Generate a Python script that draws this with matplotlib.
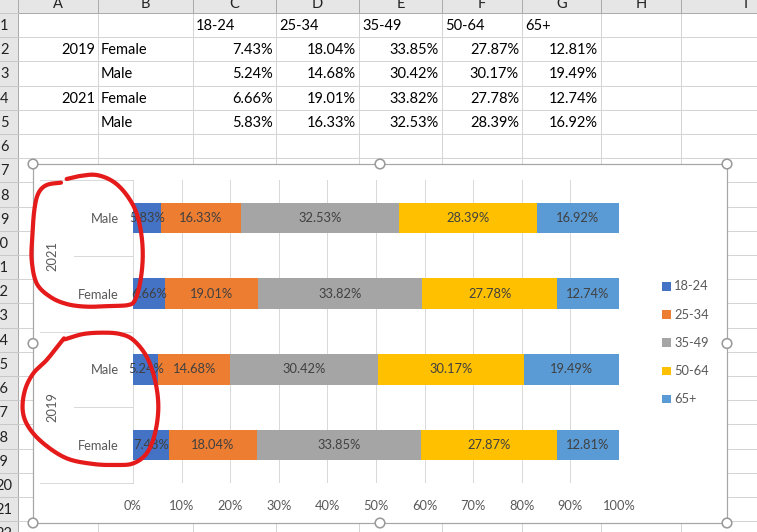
import numpy as np
import matplotlib
matplotlib.use('Agg')
import matplotlib.pyplot as plt
from matplotlib.patches import Rectangle, Circle
import matplotlib.transforms as mtransforms

plt.rcParams['font.family'] = ['Lato', 'DejaVu Sans']

# donnees (ordre du tableur : 2019 F, 2019 M, 2021 F, 2021 M)
years = ['2019', '', '2021', '']
genders = ['Female', 'Male', 'Female', 'Male']
groups = ['18-24', '25-34', '35-49', '50-64', '65+']
a18_24 = [7.43, 5.24, 6.66, 5.83]
a25_34 = [18.04, 14.68, 19.01, 16.33]
a35_49 = [33.85, 30.42, 33.82, 32.53]
a50_64 = [27.87, 30.17, 27.78, 28.39]
a65 = [12.81, 19.49, 12.74, 16.92]
series = [a18_24, a25_34, a35_49, a50_64, a65]
colors = ['#4472C4', '#ED7D31', '#A5A5A5', '#FFC000', '#5B9BD5']
xticks = [0, 10, 20, 30, 40, 50, 60, 70, 80, 90, 100]

W, H = 757, 532
PX = 0.72  # 1 pixel en points (dpi 100)

fig = plt.figure(figsize=(W / 100, H / 100), dpi=100)

# ---- feuille excel en fond
bg = fig.add_axes([0, 0, 1, 1])
bg.set_xlim(0, W)
bg.set_ylim(H, 0)
bg.axis('off')

col_edges = [18, 98, 193, 276, 359, 442, 522, 601, 681, 810]
col_names = ['A', 'B', 'C', 'D', 'E', 'F', 'G', 'H', 'I']
row_top = 13
row_h = 24.2
grid_c = '#D4D4D4'

for x in col_edges[1:]:
    bg.plot([x, x], [row_top, H], color=grid_c, lw=PX)
for i in range(1, 24):
    y = row_top + row_h * i
    bg.plot([18, W], [y, y], color=grid_c, lw=PX)

bg.add_patch(Rectangle((0, 0), W, row_top, fc='#E6E6E6', ec='none'))
bg.add_patch(Rectangle((0, 0), 18, H, fc='#E6E6E6', ec='none'))
for x in col_edges[1:]:
    bg.plot([x, x], [0, row_top], color='#ABABAB', lw=PX)
bg.plot([0, W], [row_top, row_top], color='#ABABAB', lw=PX)
bg.plot([18, 18], [0, H], color='#ABABAB', lw=PX)
for i in range(1, 23):
    y = row_top + row_h * (i - 1)
    bg.plot([0, 18], [y, y], color='#C8C8C8', lw=PX)
    xr = 12 if i >= 20 else 8.5
    bg.text(xr, y + row_h / 2 + 1, str(i), ha='right', va='center', fontsize=10.5, color='#222222')
for k, name in enumerate(col_names):
    cx = (col_edges[k] + col_edges[k + 1]) / 2
    bg.text(cx, 4, name, ha='center', va='center', fontsize=10.5, color='#222222')

def cell_y(r):
    return row_top + row_h * (r - 1) + row_h / 2 + 1

for k, g in enumerate(groups):
    bg.text(col_edges[2 + k] + 3, cell_y(1), g, ha='left', va='center', fontsize=10.5, color='black')
for r in range(4):
    if years[r]:
        bg.text(col_edges[1] - 3, cell_y(r + 2), years[r], ha='right', va='center', fontsize=10.5, color='black')
    bg.text(col_edges[1] + 3, cell_y(r + 2), genders[r], ha='left', va='center', fontsize=10.5, color='black')
    for k, s in enumerate(series):
        bg.text(col_edges[3 + k] - 3, cell_y(r + 2), f'{s[r]:.2f}%', ha='right', va='center',
                fontsize=10.5, color='black')

# zone du graphique
cx0, cy0, cx1, cy1 = 33, 164, 727, 523
bg.add_patch(Rectangle((cx0, cy0), cx1 - cx0, cy1 - cy0, fc='white', ec='#A6A6A6', lw=PX * 1.2, zorder=5))

# ---- graphique barres empilees
px0, px1, py0, py1 = 133, 619, 180, 483
ax = fig.add_axes([px0 / W, 1 - py1 / H, (px1 - px0) / W, (py1 - py0) / H])
ax.set_facecolor('none')
pos = np.arange(len(genders))
left = np.zeros(len(genders))
for s, c in zip(series, colors):
    vals = np.array(s)
    ax.barh(pos, vals, left=left, height=0.4, color=c, zorder=3)
    for p, v, l in zip(pos, vals, left):
        ax.text(l + v / 2, p, f'{v:.2f}%', ha='center', va='center', fontsize=9.3, color='#404040', zorder=4)
    left += vals

ax.set_xlim(0, 100)
ax.set_ylim(-0.5, len(genders) - 0.5)
ax.set_xticks(xticks)
ax.set_xticklabels([f'{t}%' for t in xticks])
ax.set_yticks(pos)
ax.set_yticklabels(genders)
ax.grid(axis='x', color='#D9D9D9', lw=PX, zorder=0)
ax.tick_params(axis='x', length=0, pad=12, labelsize=9.3, labelcolor='#595959')
ax.tick_params(axis='y', length=0, pad=10, labelsize=9.3, labelcolor='#595959')
for sp in ['top', 'right', 'bottom']:
    ax.spines[sp].set_visible(False)
ax.spines['left'].set_color('#D9D9D9')
ax.spines['left'].set_linewidth(PX)

# axe multi-niveaux (annee)
tr = mtransforms.blended_transform_factory(ax.transAxes, ax.transData)
x_long = (40 - px0) / (px1 - px0)
x_short = (74 - px0) / (px1 - px0)
x_year = (52 - px0) / (px1 - px0)
for b in [-0.5, 1.5, 3.5]:
    ax.plot([x_long, 0], [b, b], transform=tr, color='#D9D9D9', lw=PX, clip_on=False)
for b in [0.5, 2.5]:
    ax.plot([x_short, 0], [b, b], transform=tr, color='#D9D9D9', lw=PX, clip_on=False)
for i in range(0, len(years), 2):
    ax.text(x_year, i + 0.5, years[i], transform=tr, rotation=90, ha='center', va='center',
            fontsize=9.3, color='#595959')

# legende
for k, (g, c) in enumerate(zip(groups, colors)):
    ly = 286 + 28.2 * k
    bg.add_patch(Rectangle((662, ly - 4), 8.5, 8.5, fc=c, ec='none', zorder=6))
for k, g in enumerate(groups):
    ly = 286 + 28.2 * k
    bg.text(674, ly + 0.5, g, ha='left', va='center', fontsize=9.3, color='#595959', zorder=6)

# ---- surcouche : poignees et cercles rouges
top = fig.add_axes([0, 0, 1, 1])
top.set_xlim(0, W)
top.set_ylim(H, 0)
top.axis('off')
top.patch.set_alpha(0)

for hx, hy in [(cx0, cy0), (380, cy0), (cx1, cy0), (cx0, 343.5), (cx1, 343.5),
               (cx0, cy1), (380, cy1), (cx1, cy1)]:
    top.add_patch(Circle((hx, hy), 4.8, fc='white', ec='#9A9A9A', lw=1.6 * PX))


def catmull(pts, n=12):
    pts = np.asarray(pts, float)
    p = np.vstack([pts[0], pts, pts[-1]])
    out = []
    for i in range(1, len(p) - 2):
        p0, p1, p2, p3 = p[i - 1], p[i], p[i + 1], p[i + 2]
        for t in np.linspace(0, 1, n, endpoint=False):
            t2, t3 = t * t, t * t * t
            out.append(0.5 * ((2 * p1) + (-p0 + p2) * t + (2 * p0 - 5 * p1 + 4 * p2 - p3) * t2
                              + (-p0 + 3 * p1 - 3 * p2 + p3) * t3))
    out.append(p[-2])
    return np.array(out)


loop1 = [(200, 57), (240, 48), (290, 45), (340, 65), (380, 105), (410, 160), (425, 230), (428, 300),
         (420, 370), (405, 420), (385, 435), (330, 438), (260, 440), (200, 432), (150, 410),
         (110, 370), (95, 300), (97, 230), (103, 150), (115, 100), (140, 75), (183, 68)]
loop2 = [(195, 58), (250, 42), (310, 38), (360, 42), (400, 60), (440, 110), (465, 180), (475, 260),
         (465, 340), (440, 400), (400, 430), (350, 435), (280, 432), (200, 415), (130, 370),
         (85, 320), (68, 270), (75, 210), (100, 160), (140, 120), (180, 70), (192, 55)]
for pts, oy in [(loop1, 160), (loop2, 320)]:
    arr = np.array([(x / 3, y / 3 + oy) for x, y in pts])
    sm = catmull(arr)
    top.plot(sm[:, 0], sm[:, 1], color='#E51A1A', lw=4.2 * PX, solid_capstyle='round',
             solid_joinstyle='round')

fig.savefig('out.png', dpi=100)
